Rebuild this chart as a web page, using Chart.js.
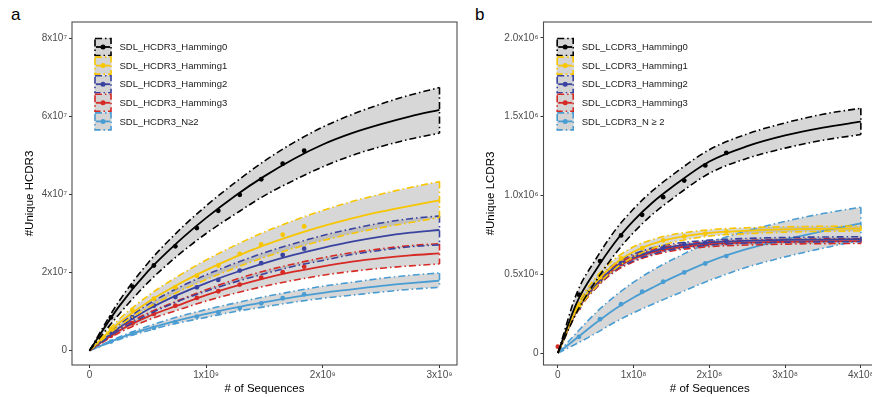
<!DOCTYPE html>
<html>
<head>
<meta charset="utf-8">
<script src="https://cdn.jsdelivr.net/npm/chart.js@4.4.1/dist/chart.umd.min.js"></script>
<style>
  html, body { margin: 0; padding: 0; background: #fff; overflow: hidden; width: 872px; height: 397px; }
  canvas { position: absolute; top: 0; }
  #chartA { left: 0; }
  #chartB { left: 440px; }
  .tag { position: absolute; font: 17px "Liberation Sans", Arial, sans-serif; color: #000; }
</style>
</head>
<body>
<div class="tag" style="left:11px; top:5px;">a</div>
<div class="tag" style="left:475px; top:5px;">b</div>
<canvas id="chartA" width="462" height="397"></canvas>
<canvas id="chartB" width="440" height="397"></canvas>
<script>
// ---- panel a : x in 1e9 sequences, y in 1e7 unique HCDR3 ----
const gridA = [0, 0.25, 0.5, 0.75, 1, 1.25, 1.5, 1.75, 2, 2.25, 2.5, 2.75, 3];
const sampleA = [0.184, 0.368, 0.552, 0.736, 0.92, 1.104, 1.288, 1.472, 1.656, 1.84];
const namesA = ['SDL_HCDR3_Hamming0', 'SDL_HCDR3_Hamming1', 'SDL_HCDR3_Hamming2', 'SDL_HCDR3_Hamming3', 'SDL_HCDR3_N≥2'];
const xTicksA = [0, 1, 2, 3];
const xLabelsA = ['0', '1x10⁹', '2x10⁹', '3x10⁹'];
const yTicksA = [0, 2, 4, 6, 8];
const yLabelsA = ['0', '2x10⁷', '4x10⁷', '6x10⁷', '8x10⁷'];

const h0FitA = [0, 1.12, 2.03, 2.76, 3.40, 3.97, 4.47, 4.91, 5.28, 5.57, 5.80, 6.00, 6.17];
const h0UpA  = [0, 1.25, 2.24, 3.03, 3.71, 4.31, 4.86, 5.33, 5.73, 6.05, 6.32, 6.55, 6.74];
const h0LowA = [0, 0.92, 1.74, 2.42, 3.00, 3.50, 3.97, 4.36, 4.71, 5.00, 5.23, 5.42, 5.57];
const h0PtsA = [0.85, 1.64, 2.18, 2.67, 3.14, 3.58, 3.99, 4.39, 4.79, 5.12];

const h1FitA = [0, 0.70, 1.24, 1.68, 2.06, 2.40, 2.70, 2.96, 3.19, 3.39, 3.56, 3.71, 3.85];
const h1UpA  = [0, 0.79, 1.40, 1.89, 2.32, 2.70, 3.04, 3.33, 3.59, 3.82, 4.01, 4.18, 4.33];
const h1LowA = [0, 0.62, 1.10, 1.49, 1.82, 2.12, 2.39, 2.62, 2.82, 3.00, 3.15, 3.28, 3.41];
const h1PtsA = [0.55, 1.03, 1.33, 1.62, 1.92, 2.18, 2.48, 2.72, 2.97, 3.18];

const h2FitA = [0, 0.58, 1.05, 1.42, 1.73, 2.00, 2.24, 2.45, 2.63, 2.79, 2.92, 3.02, 3.09];
const h2UpA  = [0, 0.65, 1.18, 1.59, 1.94, 2.24, 2.51, 2.74, 2.95, 3.12, 3.27, 3.38, 3.45];
const h2LowA = [0, 0.51, 0.92, 1.25, 1.52, 1.76, 1.97, 2.16, 2.31, 2.46, 2.57, 2.66, 2.71];
const h2PtsA = [0.45, 0.85, 1.15, 1.37, 1.62, 1.81, 2.05, 2.24, 2.45, 2.61];

const h3FitA = [0, 0.50, 0.87, 1.15, 1.42, 1.65, 1.85, 2.02, 2.16, 2.28, 2.37, 2.44, 2.49];
const h3UpA  = [0, 0.55, 0.96, 1.27, 1.56, 1.82, 2.04, 2.22, 2.38, 2.51, 2.61, 2.69, 2.74];
const h3LowA = [0, 0.45, 0.78, 1.03, 1.27, 1.47, 1.65, 1.80, 1.93, 2.03, 2.11, 2.17, 2.22];
const h3PtsA = [0.38, 0.70, 0.94, 1.15, 1.35, 1.52, 1.69, 1.87, 2.01, 2.15];

const n2FitA = [0, 0.31, 0.56, 0.77, 0.94, 1.10, 1.24, 1.37, 1.48, 1.57, 1.66, 1.73, 1.79];
const n2UpA  = [0, 0.34, 0.62, 0.86, 1.05, 1.22, 1.38, 1.52, 1.65, 1.75, 1.85, 1.93, 1.99];
const n2LowA = [0, 0.28, 0.51, 0.70, 0.85, 1.00, 1.12, 1.24, 1.34, 1.42, 1.50, 1.57, 1.62];
const n2PtsA = [0.23, 0.44, 0.58, 0.73, 0.87, 0.98, 1.09, 1.21, 1.34, 1.44];

// ---- panel b : x in 1e8 sequences, y in 1e6 unique LCDR3 ----
const gridB = [0, 0.25, 0.5, 0.75, 1, 1.25, 1.5, 2, 2.5, 3, 3.5, 4];
const sampleB = [0.278, 0.556, 0.834, 1.112, 1.39, 1.668, 1.946, 2.224];
const sampleB0 = [0, 0.278, 0.556, 0.834, 1.112, 1.39, 1.668, 1.946, 2.224];
const namesB = ['SDL_LCDR3_Hamming0', 'SDL_LCDR3_Hamming1', 'SDL_LCDR3_Hamming2', 'SDL_LCDR3_Hamming3', 'SDL_LCDR3_N ≥ 2'];
const xTicksB = [0, 1, 2, 3, 4];
const xLabelsB = ['0', '1x10⁸', '2x10⁸', '3x10⁸', '4x10⁸'];
const yTicksB = [0, 0.5, 1, 1.5, 2];
const yLabelsB = ['0', '0.5x10⁶', '1.0x10⁶', '1.5x10⁶', '2.0x10⁶'];

const h0FitB = [0, 0.32, 0.525, 0.70, 0.84, 0.955, 1.05, 1.215, 1.312, 1.38, 1.43, 1.468];
const h0UpB  = [0, 0.38, 0.595, 0.775, 0.915, 1.03, 1.125, 1.29, 1.39, 1.46, 1.515, 1.553];
const h0LowB = [0, 0.26, 0.455, 0.625, 0.765, 0.88, 0.975, 1.14, 1.235, 1.30, 1.35, 1.386];
const h0PtsB = [0.37, 0.583, 0.746, 0.877, 0.989, 1.094, 1.19, 1.27];

const h1FitB = [0, 0.28, 0.448, 0.565, 0.642, 0.692, 0.725, 0.762, 0.776, 0.784, 0.788, 0.79];
const h1UpB  = [0, 0.30, 0.478, 0.597, 0.674, 0.72, 0.75, 0.782, 0.795, 0.801, 0.804, 0.806];
const h1LowB = [0, 0.26, 0.418, 0.533, 0.61, 0.664, 0.70, 0.742, 0.757, 0.767, 0.772, 0.774];
const h1PtsB = [0.30, 0.48, 0.60, 0.665, 0.715, 0.74, 0.757, 0.77];

const h2FitB = [0, 0.272, 0.435, 0.545, 0.607, 0.647, 0.674, 0.70, 0.712, 0.718, 0.72, 0.722];
const h2UpB  = [0, 0.285, 0.455, 0.566, 0.628, 0.667, 0.692, 0.716, 0.727, 0.733, 0.736, 0.738];
const h2LowB = [0, 0.259, 0.415, 0.524, 0.586, 0.627, 0.656, 0.684, 0.697, 0.703, 0.705, 0.706];
const h2PtsB = [0.29, 0.465, 0.575, 0.635, 0.668, 0.69, 0.70, 0.708];

const h3FitB = [0, 0.268, 0.428, 0.535, 0.598, 0.638, 0.664, 0.69, 0.70, 0.706, 0.709, 0.71];
const h3UpB  = [0, 0.28, 0.446, 0.554, 0.617, 0.656, 0.681, 0.705, 0.715, 0.721, 0.724, 0.725];
const h3LowB = [0, 0.256, 0.41, 0.516, 0.579, 0.62, 0.647, 0.675, 0.685, 0.691, 0.694, 0.695];
const h3PtsB = [0.04, 0.285, 0.455, 0.565, 0.625, 0.657, 0.678, 0.69, 0.698];

const n2FitB = [0, 0.095, 0.19, 0.278, 0.352, 0.415, 0.475, 0.58, 0.66, 0.72, 0.774, 0.822];
const n2UpB  = [0, 0.13, 0.255, 0.36, 0.45, 0.525, 0.59, 0.70, 0.775, 0.835, 0.885, 0.925];
const n2LowB = [0, 0.06, 0.125, 0.195, 0.255, 0.31, 0.36, 0.46, 0.545, 0.61, 0.665, 0.716];
const n2PtsB = [0.103, 0.215, 0.31, 0.389, 0.452, 0.511, 0.568, 0.615];

const colors = ['#000000', '#F7C600', '#3A43A0', '#D62A25', '#4A9DD3'];
const FONT = '"Liberation Sans", Arial, sans-serif';
const RIBBON = 'rgba(160,160,160,0.42)';
const DASH = [7, 3, 1.5, 3];

const xy = (xs, ys) => ys.map((v, i) => ({ x: xs[i], y: v }));

function seriesSets(grid, fit, up, low, px, py, color) {
  const last = grid.length - 1;
  const band = { borderColor: color, borderWidth: 1.6, borderDash: DASH, pointRadius: 0, cubicInterpolationMode: 'monotone' };
  return [
    { ...band, data: xy(grid, up), fill: '+1', backgroundColor: RIBBON },
    { ...band, data: xy(grid, low), fill: false },
    { ...band, data: [{ x: grid[last], y: up[last] }, { x: grid[last], y: low[last] }], fill: false },
    { data: xy(grid, fit), borderColor: color, borderWidth: 1.8, pointRadius: 0, fill: false, cubicInterpolationMode: 'monotone' },
    { data: xy(px, py), showLine: false, pointRadius: 2.4, pointBackgroundColor: color, pointBorderWidth: 0, borderColor: color }
  ];
}

// frame round the plot area + ggplot-like legend keys inside it
const panelDeco = {
  id: 'panelDeco',
  afterDraw(chart, args, opts) {
    const { ctx, chartArea: a } = chart;
    ctx.save();
    ctx.strokeStyle = '#4d4d4d';
    ctx.lineWidth = 1.1;
    ctx.strokeRect(a.left, a.top, a.right - a.left, a.bottom - a.top);

    opts.names.forEach((name, i) => {
      const cy = opts.y0 + i * opts.rowH;
      const x0 = opts.x0, w = 17, h = 18;
      ctx.fillStyle = '#d4d4d4';
      ctx.fillRect(x0, cy - h / 2, w, h);
      ctx.strokeStyle = colors[i];
      ctx.lineWidth = 1.6;
      ctx.setLineDash(DASH);
      ctx.strokeRect(x0 + 0.5, cy - h / 2 + 0.5, w - 1, h - 1);
      ctx.setLineDash([]);
      ctx.lineWidth = 1.8;
      ctx.beginPath();
      ctx.moveTo(x0 + 1.5, cy);
      ctx.lineTo(x0 + w - 1.5, cy);
      ctx.stroke();
      ctx.fillStyle = colors[i];
      ctx.beginPath();
      ctx.arc(x0 + w / 2, cy, 2.5, 0, Math.PI * 2);
      ctx.fill();
      ctx.fillStyle = '#1a1a1a';
      ctx.font = '9.5px ' + FONT;
      ctx.textBaseline = 'middle';
      ctx.textAlign = 'left';
      ctx.fillText(name, x0 + 25, cy + 0.5);
    });
    ctx.restore();
  }
};

function makePanel(id, p) {
  const datasets = [];
  p.series.forEach((s, i) => datasets.push(...seriesSets(p.grid, s[0], s[1], s[2], s[3], s[4], colors[i])));

  const axisGrid = { display: true, drawOnChartArea: false, drawTicks: true, tickLength: 3, tickColor: '#333', tickWidth: 1 };
  return new Chart(document.getElementById(id), {
    type: 'line',
    data: { datasets: datasets },
    plugins: [panelDeco],
    options: {
      responsive: false,
      animation: false,
      layout: { padding: { top: 22, right: p.padRight, left: 0, bottom: 0 } },
      plugins: {
        legend: { display: false },
        tooltip: { enabled: false },
        filler: { drawTime: 'beforeDatasetsDraw' },
        panelDeco: { names: p.names, x0: p.keyX, y0: 47, rowH: 18.6 }
      },
      scales: {
        x: {
          type: 'linear', min: p.xMin, max: p.xMax,
          grid: axisGrid, border: { display: false },
          afterBuildTicks: (sc) => { sc.ticks = p.xTicks.map(v => ({ value: v })); },
          afterFit: (sc) => { sc.height = 32; },
          ticks: { autoSkip: false, maxRotation: 0, padding: 1, color: '#4d4d4d', font: { family: FONT, size: 10 },
                   callback: (v, i) => p.xLabels[i] },
          title: { display: true, text: '# of Sequences', color: '#000', font: { family: FONT, size: 11.5 }, padding: { top: 0, bottom: 1 } }
        },
        y: {
          type: 'linear', min: p.yMin, max: p.yMax,
          grid: axisGrid, border: { display: false },
          afterBuildTicks: (sc) => { sc.ticks = p.yTicks.map(v => ({ value: v })); },
          afterFit: (sc) => { sc.width = p.yWidth; },
          ticks: { padding: 2, color: '#4d4d4d', font: { family: FONT, size: 10 },
                   callback: (v, i) => p.yLabels[i] },
          title: { display: true, text: p.yTitle, color: '#000', font: { family: FONT, size: 11.5 }, padding: { top: p.yTitlePad, bottom: 0 } }
        }
      }
    }
  });
}

makePanel('chartA', {
  grid: gridA, names: namesA, keyX: 94.5, padRight: 5, yWidth: 72, yTitlePad: 23,
  xMin: -0.15, xMax: 3.15, yMin: -0.37, yMax: 8.42,
  xTicks: xTicksA, xLabels: xLabelsA, yTicks: yTicksA, yLabels: yLabelsA, yTitle: '#Unique HCDR3',
  series: [
    [h0FitA, h0UpA, h0LowA, sampleA, h0PtsA],
    [h1FitA, h1UpA, h1LowA, sampleA, h1PtsA],
    [h2FitA, h2UpA, h2LowA, sampleA, h2PtsA],
    [h3FitA, h3UpA, h3LowA, sampleA, h3PtsA],
    [n2FitA, n2UpA, n2LowA, sampleA, n2PtsA]
  ]
});

makePanel('chartB', {
  grid: gridB, names: namesB, keyX: 116.7, padRight: 4, yWidth: 103.5, yTitlePad: 44,
  xMin: -0.19, xMax: 4.2, yMin: -0.076, yMax: 2.1,
  xTicks: xTicksB, xLabels: xLabelsB, yTicks: yTicksB, yLabels: yLabelsB, yTitle: '#Unique LCDR3',
  series: [
    [h0FitB, h0UpB, h0LowB, sampleB, h0PtsB],
    [h1FitB, h1UpB, h1LowB, sampleB, h1PtsB],
    [h2FitB, h2UpB, h2LowB, sampleB, h2PtsB],
    [h3FitB, h3UpB, h3LowB, sampleB0, h3PtsB],
    [n2FitB, n2UpB, n2LowB, sampleB, n2PtsB]
  ]
});
</script>
</body>
</html>
